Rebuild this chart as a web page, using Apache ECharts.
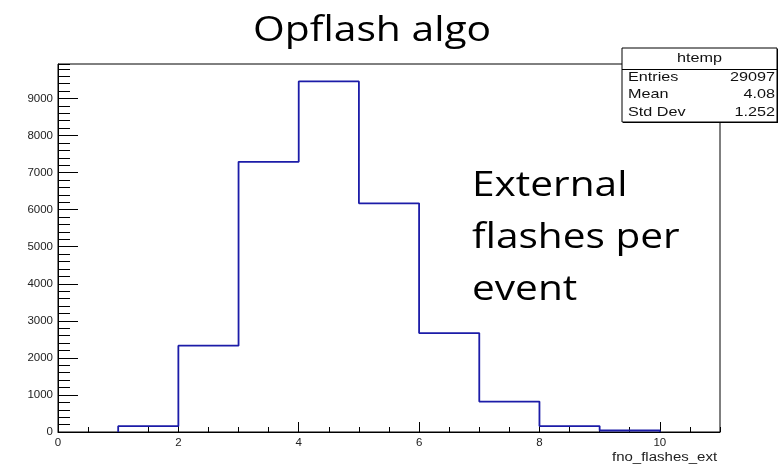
<!DOCTYPE html>
<html>
<head>
<meta charset="utf-8">
<script src="https://cdn.jsdelivr.net/npm/echarts@6/dist/echarts.min.js"></script>
<style>
  html, body { margin: 0; padding: 0; background: #fff; }
  #chart { width: 779px; height: 468px; }
</style>
</head>
<body>
<div id="chart"></div>
<script>
// Histogram of external flashes per event (unit-width bins, lower edges)
const binLow = [1, 2, 3, 4, 5, 6, 7, 8, 9];
const binCounts = [157, 2330, 7290, 9460, 6170, 2670, 820, 160, 40];
const binWidth = 1;

// Statistics box contents
const statTitle = 'htemp';
const statNames = ['Entries', 'Mean', 'Std Dev'];
const statValues = ['29097', '4.08', '1.252'];

const xMax = 11;
const yMax = 9930;

// Step outline: rises at the first bin edge, falls at the last one
const outline = [[binLow[0], 0]];
binLow.forEach((lo, i) => outline.push([lo, binCounts[i]]));
outline.push([binLow[binLow.length - 1] + binWidth, 0]);

const chart = echarts.init(document.getElementById('chart'), null, { renderer: 'canvas' });

const labelFont = { fontFamily: 'Liberation Sans', fontSize: 11.5, color: '#222' };
const bigFont = 'Open Sans';
const plain = v => String(v);

// Stats box graphics
const boxX = 622, boxY = 48, boxW = 155, boxH = 74;
const statFont = '13.5px "Liberation Sans"';
const statScale = 1.2;
const statGraphics = [
  { type: 'rect', shape: { x: boxX + 1, y: boxY + 1, width: boxW, height: boxH }, style: { fill: '#000' }, z: 10 },
  { type: 'rect', shape: { x: boxX, y: boxY, width: boxW, height: boxH }, style: { fill: '#fff', stroke: '#000', lineWidth: 1 }, z: 11 },
  { type: 'line', shape: { x1: boxX, y1: 69.5, x2: boxX + boxW, y2: 69.5 }, style: { stroke: '#000', lineWidth: 1 }, z: 12 },
  { type: 'text', x: boxX + boxW / 2, y: 58, z: 12, scaleX: statScale,
    style: { text: statTitle, font: statFont, fill: '#111', align: 'center', verticalAlign: 'middle' } }
];
statNames.forEach((name, i) => {
  const y = 77 + i * 17.5;
  statGraphics.push({ type: 'text', x: 628, y: y, z: 12, scaleX: statScale,
    style: { text: name, font: statFont, fill: '#111', align: 'left', verticalAlign: 'middle' } });
  statGraphics.push({ type: 'text', x: 775, y: y, z: 12, scaleX: statScale,
    style: { text: statValues[i], font: statFont, fill: '#111', align: 'right', verticalAlign: 'middle' } });
});

chart.setOption({
  animation: false,
  backgroundColor: '#fff',
  grid: {
    left: 58, top: 64, width: 662, height: 368,
    show: true, borderColor: '#000', borderWidth: 1, backgroundColor: '#fff'
  },
  xAxis: [
    {
      type: 'value', min: 0, max: xMax, interval: 2, position: 'bottom',
      axisLine: { onZero: false, lineStyle: { color: '#000', width: 1 } },
      axisTick: { inside: true, length: 10, lineStyle: { color: '#000' } },
      axisLabel: Object.assign({ margin: 5, showMaxLabel: false, formatter: plain }, labelFont),
      splitLine: { show: false }
    },
    {
      type: 'value', min: 0, max: xMax, interval: 0.5, position: 'bottom',
      axisLine: { show: false, onZero: false },
      axisTick: { inside: true, length: 5, lineStyle: { color: '#000' } },
      axisLabel: { show: false },
      splitLine: { show: false }
    }
  ],
  yAxis: [
    {
      type: 'value', min: 0, max: yMax, interval: 1000, position: 'left',
      axisLine: { show: true, onZero: false, lineStyle: { color: '#000', width: 1 } },
      axisTick: { show: true, inside: true, length: 20, lineStyle: { color: '#000' } },
      axisLabel: Object.assign({ margin: 5, showMaxLabel: false, formatter: plain }, labelFont),
      splitLine: { show: false }
    },
    {
      type: 'value', min: 0, max: yMax, interval: 200, position: 'left',
      axisLine: { show: false, onZero: false },
      axisTick: { show: true, inside: true, length: 12, lineStyle: { color: '#000' } },
      axisLabel: { show: false },
      splitLine: { show: false }
    }
  ],
  series: [
    {
      type: 'line',
      xAxisIndex: 0,
      yAxisIndex: 0,
      step: 'end',
      data: outline,
      symbol: 'none',
      lineStyle: { color: '#1c1ca8', width: 1.8 },
      z: 3
    }
  ],
  graphic: [
    {
      type: 'text', x: 253, y: 14, scaleX: 1.2,
      style: { text: 'Opflash algo', font: '34px "' + bigFont + '"', fill: '#000' }
    },
    {
      type: 'text', x: 612, y: 451, scaleX: 1.2,
      style: { text: 'fno_flashes_ext', font: '12.5px "Liberation Sans"', fill: '#222' }
    },
    {
      type: 'text', x: 472, y: 160, scaleX: 1.16,
      style: { text: 'External\nflashes per\nevent', font: '35px "' + bigFont + '"', lineHeight: 52, fill: '#000' }
    }
  ].concat(statGraphics)
});
</script>
</body>
</html>
